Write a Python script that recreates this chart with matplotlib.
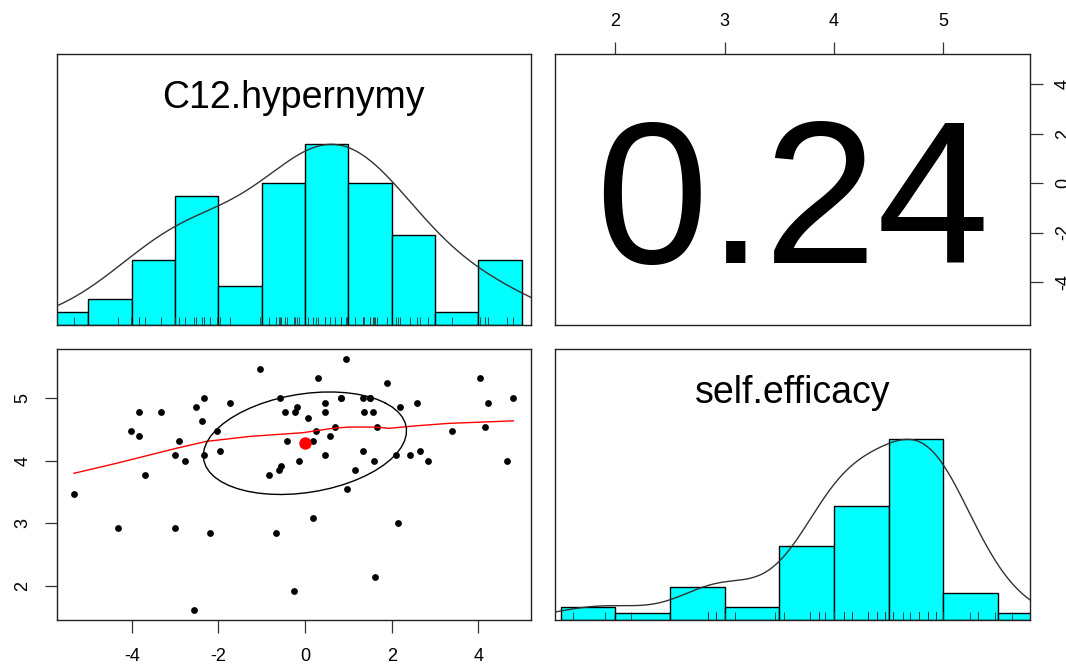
import numpy as np
import matplotlib
matplotlib.use("Agg")
import matplotlib.pyplot as plt

plt.rcParams["font.family"] = ["Liberation Sans", "DejaVu Sans"]
plt.rcParams["axes.unicode_minus"] = False

# data (x = C12.hypernymy, y = self.efficacy)
hypernymy = [-1.05, 0.94, 0.29, 1.90, 4.03, -2.32, -2.51, -1.72, -3.83, -3.33,
             -2.37, -0.58, 0.83, 1.33, 1.50, 4.81, 0.46, 2.59, 4.22, 2.19,
             -0.18, -0.46, -0.23, 0.46, 1.37, 1.56, 0.06, -4.01, -3.83, -2.03,
             0.25, 0.70, 1.65, 3.39, 4.16, -2.91, -0.42, 0.18, 0.58, -1.97,
             1.33, 2.65, -2.99, -2.34, 0.46, 2.10, 2.42, -2.76, -0.15, 1.60,
             2.84, 4.67, -3.69, -0.84, -0.55, -0.61, 1.16, 0.96, -5.33, 0.18,
             -4.32, -3.01, -2.19, -0.68, 2.14, 1.62, -0.25, -2.57, 0.83, 1.50]
efficacy = [5.47, 5.63, 5.32, 5.24, 5.32, 5.00, 4.86, 4.93, 4.78, 4.78,
            4.63, 5.00, 5.00, 5.00, 5.00, 5.00, 4.93, 4.93, 4.93, 4.86,
            4.86, 4.78, 4.78, 4.78, 4.78, 4.78, 4.69, 4.47, 4.39, 4.47,
            4.47, 4.54, 4.54, 4.47, 4.54, 4.31, 4.31, 4.31, 4.39, 4.16,
            4.16, 4.16, 4.09, 4.09, 4.09, 4.09, 4.09, 4.00, 4.00, 4.00,
            4.00, 4.00, 3.78, 3.78, 3.92, 3.86, 3.86, 3.54, 3.46, 3.09,
            2.92, 2.92, 2.85, 2.85, 3.00, 2.14, 1.91, 1.61, 5.00, 5.00]

# histograms
hyper_breaks = [-6, -5, -4, -3, -2, -1, 0, 1, 2, 3, 4, 5]
hyper_counts = [1, 2, 5, 10, 3, 11, 14, 11, 7, 1, 5]
eff_breaks = [1.5, 2.0, 2.5, 3.0, 3.5, 4.0, 4.5, 5.0, 5.5, 6.0]
eff_counts = [2, 1, 5, 2, 11, 17, 27, 4, 1]

# lowess smooth
smooth_x = [-5.33, -4.35, -2.97, -2.28, -1.28, -0.05, 0.64, 1.02, 1.64, 1.94,
            2.56, 3.33, 4.09, 4.81]
smooth_y = [3.80, 3.96, 4.20, 4.31, 4.39, 4.45, 4.52, 4.54, 4.54, 4.52,
            4.56, 4.60, 4.62, 4.64]

r_value = "0.24"
names = ["C12.hypernymy", "self.efficacy"]
hyper_ticks = [-4, -2, 0, 2, 4]
eff_ticks = [2, 3, 4, 5]

x = np.array(hypernymy)
y = np.array(efficacy)


def pad_range(v):
    lo, hi = v.min(), v.max()
    d = (hi - lo) * 0.04
    return lo - d, hi + d


def density(v, adjust=1.2, n=512):
    # R density(bw="nrd", adjust=1.2)
    q75, q25 = np.percentile(v, [75, 25])
    s = min(np.std(v, ddof=1), (q75 - q25) / 1.34)
    bw = 1.06 * s * len(v) ** (-0.2) * adjust
    grid = np.linspace(v.min() - 3 * bw, v.max() + 3 * bw, n)
    d = np.exp(-0.5 * ((grid[:, None] - v[None, :]) / bw) ** 2).sum(axis=1)
    return grid, d / d.max()


xlim = pad_range(x)
ylim = pad_range(y)

W, H = 1066, 667
fig = plt.figure(figsize=(W / 100, H / 100), dpi=100)


def add_panel(x0, y0, x1, y1):
    return fig.add_axes([x0 / W, 1 - y1 / H, (x1 - x0) / W, (y1 - y0) / H])


ax11 = add_panel(56.5, 54, 531, 325)
ax12 = add_panel(555, 54, 1030, 325)
ax21 = add_panel(56.5, 349, 531, 620)
ax22 = add_panel(555, 349, 1030, 620)

tick_kw = dict(length=9, width=0.9, labelsize=13, color="#333333")


def hist_panel(ax, v, breaks, counts, lim, name):
    c = np.array(counts, dtype=float)
    c = c / c.max()
    b = np.array(breaks)
    ax.bar(b[:-1], c, width=np.diff(b), align="edge", color="#00FFFF",
           edgecolor="black", linewidth=1.0, zorder=2)
    gx, gy = density(v)
    ax.plot(gx, gy, color="#333333", lw=1.0, zorder=3)
    ax.vlines(v, 0, 0.045, color="#333333", lw=0.6, zorder=4)
    ax.set_xlim(lim)
    ax.set_ylim(0, 1.5)
    ax.set_xticks([])
    ax.set_yticks([])
    ax.text(0.5, 0.80, name, transform=ax.transAxes, ha="center",
            va="baseline", fontsize=27)


hist_panel(ax11, x, hyper_breaks, hyper_counts, xlim, names[0])
hist_panel(ax22, y, eff_breaks, eff_counts, ylim, names[1])

# scatter panel
ax21.scatter(x, y, s=24, color="black", zorder=3, linewidths=0)
ax21.plot(smooth_x, smooth_y, color="red", lw=1.0, zorder=4)
mx, my = x.mean(), y.mean()
sx, sy = x.std(ddof=1), y.std(ddof=1)
r = np.corrcoef(x, y)[0, 1]
ang = np.linspace(0, 2 * np.pi, 52)
circle = np.column_stack([np.cos(ang), np.sin(ang)])
th = np.sign(r) / np.sqrt(2)
shape = np.diag([np.sqrt(1 + r), np.sqrt(1 - r)]) @ np.array([[th, th], [-th, th]])
ell = circle @ shape
ax21.plot(ell[:, 0] * sx + mx, ell[:, 1] * sy + my, color="black", lw=1.0, zorder=4)
ax21.scatter([mx], [my], s=80, color="red", zorder=5, linewidths=0)
ax21.set_xlim(xlim)
ax21.set_ylim(ylim)
ax21.set_xticks(hyper_ticks)
ax21.set_yticks(eff_ticks)
ax21.tick_params(axis="x", pad=11, **tick_kw)
ax21.tick_params(axis="y", pad=9, **tick_kw)
for lab in ax21.get_yticklabels():
    lab.set_rotation(90)
    lab.set_va("center")

# correlation panel
ax12.set_xlim(ylim)
ax12.set_ylim(xlim)
ax12.text(0.5, 0.229, r_value, transform=ax12.transAxes, ha="center",
          va="baseline", fontsize=146)
ax12.xaxis.tick_top()
ax12.yaxis.tick_right()
ax12.set_xticks(eff_ticks)
ax12.set_yticks(hyper_ticks)
ax12.tick_params(axis="x", pad=8, **tick_kw)
ax12.tick_params(axis="y", pad=9, **tick_kw)
for lab in ax12.get_yticklabels():
    lab.set_rotation(90)
    lab.set_va("center")

for ax in (ax11, ax12, ax21, ax22):
    for sp in ax.spines.values():
        sp.set_linewidth(1.0)
        sp.set_color("#222222")

fig.savefig("out.png", dpi=100)
